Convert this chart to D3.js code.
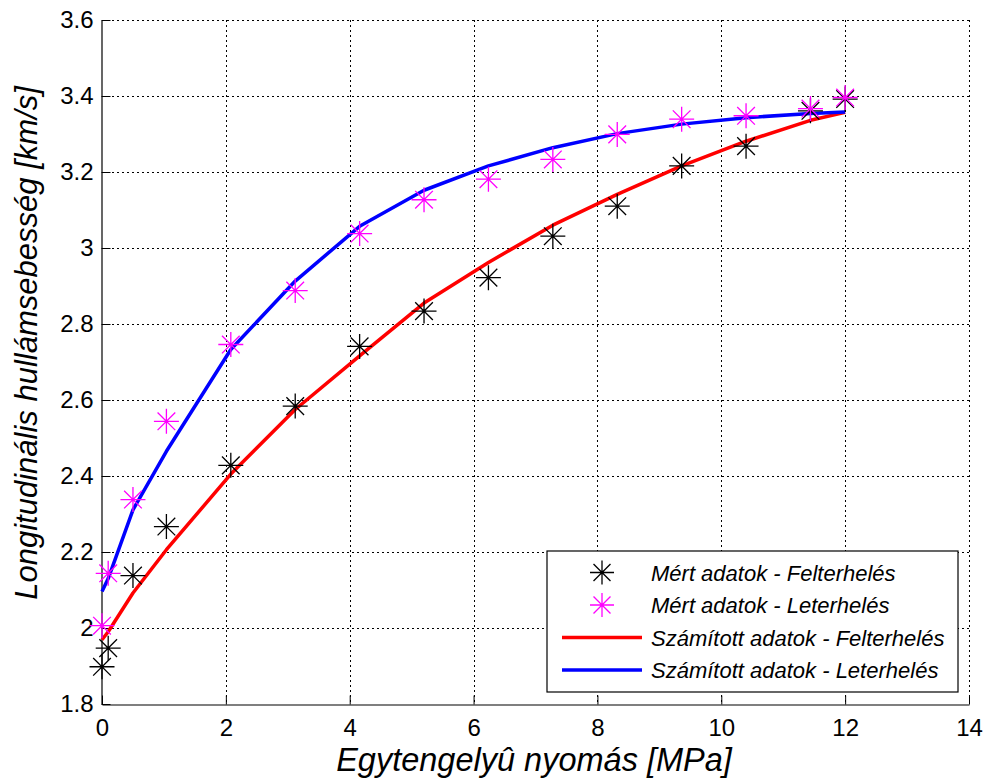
<!DOCTYPE html>
<html>
<head>
<meta charset="utf-8">
<script src="https://cdn.jsdelivr.net/npm/d3@7"></script>
<style>
  body { margin: 0; background: #fff; }
  svg { display: block; font-family: "Liberation Sans", Arial, sans-serif; }
</style>
</head>
<body>
<div class="chart"></div>
<script>
(function () {
    'use strict';

    // measured data (x in MPa, y in km/s)
    const measuredX = [0, 0.1, 0.5, 1.04, 2.08, 3.12, 4.16, 5.2, 6.24, 7.28, 8.32, 9.36, 10.4, 11.44, 12];
    const loadingMeasured = [1.898, 1.947, 2.138, 2.267, 2.428, 2.584, 2.741, 2.834, 2.922, 3.031, 3.110, 3.216, 3.268, 3.361, 3.392];
    const unloadingMeasured = [2.006, 2.144, 2.338, 2.544, 2.746, 2.888, 3.038, 3.127, 3.181, 3.233, 3.299, 3.339, 3.348, 3.367, 3.396];

    // computed curves
    const calcX = [0, 0.1, 0.5, 1.04, 2.08, 3.12, 4.16, 5.2, 6.24, 7.28, 8.32, 9.36, 10.4, 11.44, 12];
    const loadingCalc = [1.969, 1.99, 2.092, 2.206, 2.405, 2.575, 2.716, 2.855, 2.962, 3.060, 3.141, 3.216, 3.281, 3.336, 3.357];
    const unloadingCalc = [2.096, 2.13, 2.311, 2.465, 2.733, 2.913, 3.057, 3.152, 3.216, 3.264, 3.301, 3.326, 3.343, 3.354, 3.358];

    const xTicks = [0, 2, 4, 6, 8, 10, 12, 14];
    const yTicks = [1.8, 2, 2.2, 2.4, 2.6, 2.8, 3, 3.2, 3.4, 3.6];

    const legendItems = [
        { label: 'Mért adatok - Felterhelés', type: 'marker', color: '#000' },
        { label: 'Mért adatok - Leterhelés', type: 'marker', color: '#ff00ff' },
        { label: 'Számított adatok - Felterhelés', type: 'line', color: '#ff0000' },
        { label: 'Számított adatok - Leterhelés', type: 'line', color: '#0000ff' }
    ];

    const width = 988, height = 783;
    const plot = { left: 102, right: 969, top: 20, bottom: 704 };

    const svg = d3.select('.chart').append('svg').attr('width', width).attr('height', height);

    const x = d3.scaleLinear().domain([0, 14]).range([plot.left, plot.right]);
    const y = d3.scaleLinear().domain([1.8, 3.6]).range([plot.bottom, plot.top]);

    // grid
    const grid = svg.append('g').attr('class', 'grid')
        .attr('stroke', '#000').attr('stroke-width', 1).attr('stroke-dasharray', '2,3');
    grid.selectAll('.vg').data(xTicks.slice(1)).enter().append('line')
        .attr('x1', function (d) { return Math.round(x(d)) + 0.5; })
        .attr('x2', function (d) { return Math.round(x(d)) + 0.5; })
        .attr('y1', plot.top).attr('y2', plot.bottom);
    grid.selectAll('.hg').data(yTicks.slice(1)).enter().append('line')
        .attr('y1', function (d) { return Math.round(y(d)) + 0.5; })
        .attr('y2', function (d) { return Math.round(y(d)) + 0.5; })
        .attr('x1', plot.left).attr('x2', plot.right);

    // axes
    const xAxis = d3.axisBottom(x).tickValues(xTicks).tickSizeInner(-9).tickSizeOuter(0).tickPadding(14);
    const yAxis = d3.axisLeft(y).tickValues(yTicks).tickSizeInner(-9).tickSizeOuter(0).tickPadding(8)
        .tickFormat(d3.format('~g'));

    svg.append('g').attr('transform', 'translate(0,' + (plot.bottom + 0.5) + ')').call(xAxis)
        .call(function (g) {
            g.selectAll('text').style('font-size', '24px').attr('fill', '#000');
            g.selectAll('line').attr('stroke', '#000');
            g.select('.domain').attr('stroke', '#000').attr('stroke-width', 1.2);
        });
    svg.append('g').attr('transform', 'translate(' + (plot.left - 0.5) + ',0)').call(yAxis)
        .call(function (g) {
            g.selectAll('text').style('font-size', '24px').attr('fill', '#000');
            g.selectAll('line').attr('stroke', '#000');
            g.select('.domain').attr('stroke', '#000').attr('stroke-width', 1.2);
        });

    // curves
    const line = d3.line()
        .x(function (d) { return x(d[0]); })
        .y(function (d) { return y(d[1]); });

    svg.append('path').datum(d3.zip(calcX, loadingCalc))
        .attr('d', line).attr('fill', 'none').attr('stroke', '#ff0000').attr('stroke-width', 3.5)
        .attr('stroke-linejoin', 'round');
    svg.append('path').datum(d3.zip(calcX, unloadingCalc))
        .attr('d', line).attr('fill', 'none').attr('stroke', '#0000ff').attr('stroke-width', 3.5)
        .attr('stroke-linejoin', 'round');

    // asterisk markers
    const star = function (g, cx, cy, r, color) {
        const d = r * Math.SQRT1_2;
        const p = 'M' + (cx - r) + ',' + cy + 'H' + (cx + r) +
            'M' + cx + ',' + (cy - r) + 'V' + (cy + r) +
            'M' + (cx - d) + ',' + (cy - d) + 'L' + (cx + d) + ',' + (cy + d) +
            'M' + (cx - d) + ',' + (cy + d) + 'L' + (cx + d) + ',' + (cy - d);
        g.append('path').attr('d', p).attr('stroke', color).attr('stroke-width', 1.3).attr('fill', 'none');
    };

    const markers = svg.append('g').attr('class', 'markers');
    measuredX.forEach(function (v, i) {
        star(markers, x(v), y(loadingMeasured[i]), 12.5, '#000');
    });
    measuredX.forEach(function (v, i) {
        star(markers, x(v), y(unloadingMeasured[i]), 12.5, '#ff00ff');
    });

    // legend
    const legend = svg.append('g').attr('class', 'legend').attr('transform', 'translate(547,551)');
    legend.append('rect').attr('x', 0).attr('y', 0).attr('width', 411).attr('height', 141)
        .attr('fill', '#fff').attr('stroke', '#000').attr('stroke-width', 1.2);
    legendItems.forEach(function (item, i) {
        const ly = 21.5 + i * 32.5;
        if (item.type === 'marker') {
            star(legend, 55, ly, 12, item.color);
        } else {
            legend.append('line').attr('x1', 15).attr('x2', 95).attr('y1', ly).attr('y2', ly)
                .attr('stroke', item.color).attr('stroke-width', 3.5);
        }
        legend.append('text').attr('x', 104).attr('y', ly + 8)
            .style('font-size', '22px').style('font-style', 'italic').text(item.label);
    });

    // axis titles
    svg.append('text').attr('x', 534).attr('y', 771).attr('text-anchor', 'middle')
        .style('font-size', '32.5px').style('font-style', 'italic').text('Egytengelyû nyomás [MPa]');
    svg.append('text').attr('transform', 'translate(37,343) rotate(-90)').attr('text-anchor', 'middle')
        .style('font-size', '31px').style('font-style', 'italic').text('Longitudinális hullámsebesség [km/s]');
}());
</script>
</body>
</html>
